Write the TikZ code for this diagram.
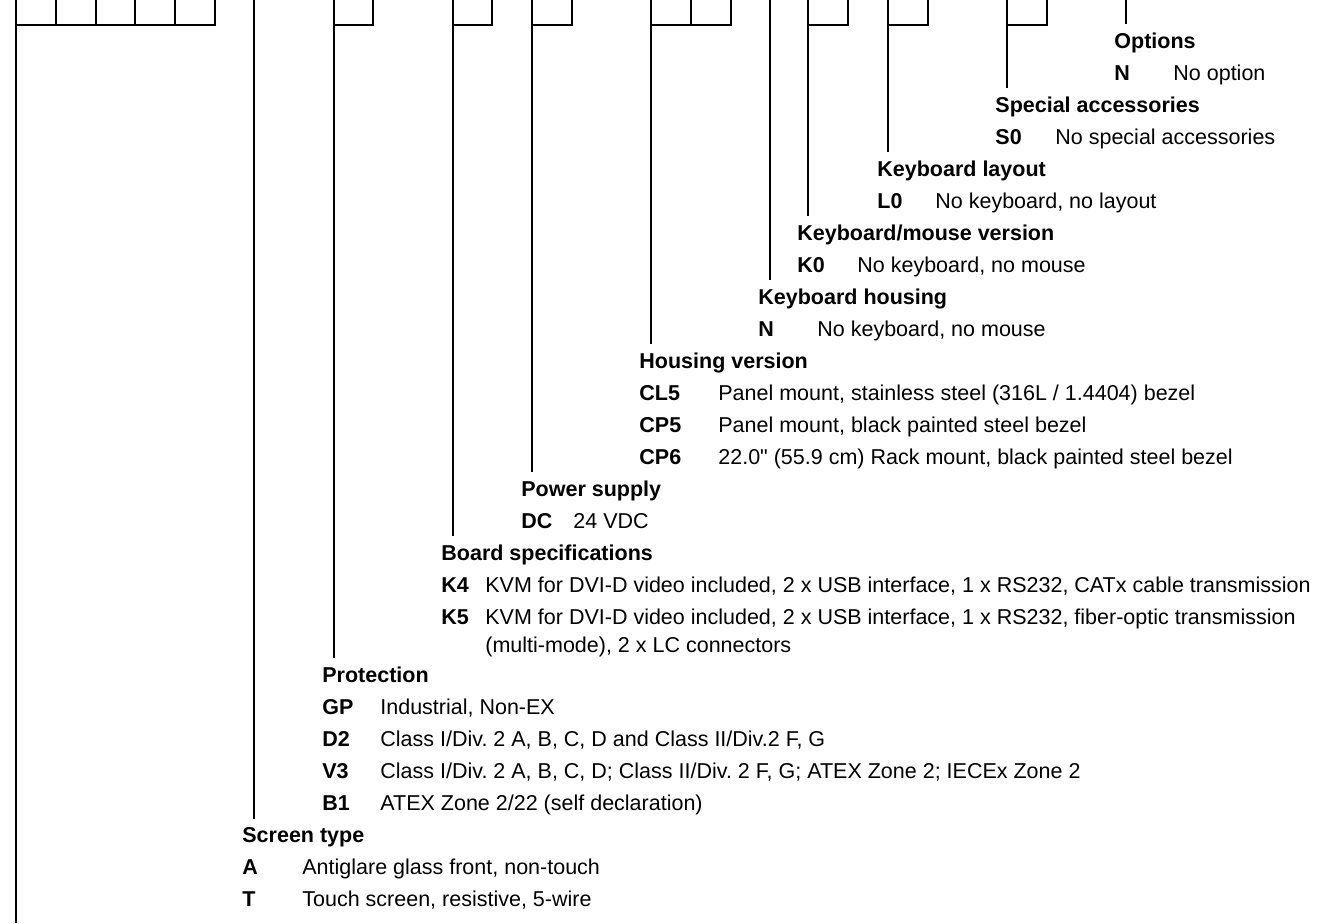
\documentclass[tikz,border=0pt]{standalone}
\usepackage{fontspec}
\setmainfont{Liberation Sans}
\usetikzlibrary{calc}
\frenchspacing

\tikzset{
  every node/.style={inner sep=0pt,anchor=base west},
  group head/.style={font=\fontsize{10.75pt}{12.9pt}\selectfont\bfseries},
  code key/.style={font=\fontsize{10.75pt}{12.9pt}\selectfont\bfseries},
  code text/.style={},
  frame line/.style={line width=1pt,draw=black},
  lead line/.style={line width=1pt,draw=black},
}

\begin{document}
\begin{tikzpicture}[x=0.5pt,y=-0.5pt,font=\fontsize{10.75pt}{12.9pt}\selectfont]
  \useasboundingbox (0,0) rectangle (1318,923);

  % code field boxes
  \draw[frame line] (16,0) -- (16,25) -| (215,0);
  \foreach \x in {56,96,135,175} \draw[frame line] (\x,0) -- (\x,25);
  \draw[frame line] (334,0) -- (334,25) -| (373,0);
  \draw[frame line] (453,0) -- (453,25) -| (492,0);
  \draw[frame line] (532,0) -- (532,25) -| (572,0);
  \draw[frame line] (651,0) -- (651,25) -| (731,0);
  \draw[frame line] (691,0) -- (691,25);
  \draw[frame line] (808,0) -- (808,25) -| (848,0);
  \draw[frame line] (888,0) -- (888,25) -| (928,0);
  \draw[frame line] (1007,0) -- (1007,25) -| (1047,0);

  \coordinate (tBase) at (16,0);
  \coordinate (eBase) at (16,923);
  \coordinate (tScreen) at (254,0);
  \coordinate (tProtect) at (334,0);
  \coordinate (tBoard) at (453,0);
  \coordinate (tPower) at (532,0);
  \coordinate (tHousing) at (651,0);
  \coordinate (tKbHousing) at (770,0);
  \coordinate (tKeyMouse) at (808,0);
  \coordinate (tLayout) at (888,0);
  \coordinate (tAccess) at (1007,0);
  \coordinate (tOptions) at (1126,0);

  % options
  \node[group head] (hOptions) at (1114,48) {Options};
  \node[code key] (kN1) at (1114,80) {N};
  \node[code text] (dN1) at (1173,80) {No option};

  \node[group head] (hAccess) at (995,112) {Special accessories};
  \node[code key] (kS0) at (995,144) {S0};
  \node[code text] (dS0) at (1055,144) {No special accessories};

  \node[group head] (hLayout) at (877,176) {Keyboard layout};
  \node[code key] (kL0) at (877,208) {L0};
  \node[code text] (dL0) at (935,208) {No keyboard, no layout};

  \node[group head] (hKeyMouse) at (797,240) {Keyboard/mouse version};
  \node[code key] (kK0) at (797,272) {K0};
  \node[code text] (dK0) at (857,272) {No keyboard, no mouse};

  \node[group head] (hKbHousing) at (758,304) {Keyboard housing};
  \node[code key] (kN2) at (758,336) {N};
  \node[code text] (dN2) at (817,336) {No keyboard, no mouse};

  \node[group head] (hHousing) at (639,368) {Housing version};
  \node[code key] (kCL5) at (639,400) {CL5};
  \node[code text] (dCL5) at (718,400) {Panel mount, stainless steel (316L / 1.4404) bezel};
  \node[code key] (kCP5) at (639,432) {CP5};
  \node[code text] (dCP5) at (718,432) {Panel mount, black painted steel bezel};
  \node[code key] (kCP6) at (639,464) {CP6};
  \node[code text] (dCP6) at (718,464) {22.0\textquotedbl{} (55.9 cm) Rack mount, black painted steel bezel};

  \node[group head] (hPower) at (521,496) {Power supply};
  \node[code key] (kDC) at (521,528) {DC};
  \node[code text] (dDC) at (573,528) {24 VDC};

  \node[group head] (hBoard) at (441,560) {Board specifications};
  \node[code key] (kK4) at (441,592) {K4};
  \node[code text] (dK4) at (485,592) {KVM for DVI-D video included, 2 x USB interface, 1 x RS232, CATx cable transmission};
  \node[code key] (kK5) at (441,624) {K5};
  \node[code text] (dK5) at (485,624) {KVM for DVI-D video included, 2 x USB interface, 1 x RS232, fiber-optic transmission};
  \node[code text] (dK5b) at (485,652) {(multi-mode), 2 x LC connectors};

  \node[group head] (hProtect) at (322,682) {Protection};
  \node[code key] (kGP) at (322,714) {GP};
  \node[code text] (dGP) at (380,714) {Industrial, Non-EX};
  \node[code key] (kD2) at (322,746) {D2};
  \node[code text] (dD2) at (380,746) {Class I/Div. 2 A, B, C, D and Class II/Div.2 F, G};
  \node[code key] (kV3) at (322,778) {V3};
  \node[code text] (dV3) at (380,778) {Class I/Div. 2 A, B, C, D; Class II/Div. 2 F, G; ATEX Zone 2; IECEx Zone 2};
  \node[code key] (kB1) at (322,810) {B1};
  \node[code text] (dB1) at (380,810) {ATEX Zone 2/22 (self declaration)};

  \node[group head] (hScreen) at (242,842) {Screen type};
  \node[code key] (kA) at (242,874) {A};
  \node[code text] (dA) at (302,874) {Antiglare glass front, non-touch};
  \node[code key] (kT) at (242,906) {T};
  \node[code text] (dT) at (302,906) {Touch screen, resistive, 5-wire};

  % lead lines down to the group headings
  \draw[lead line] (tBase) -- (eBase);
  \foreach \g in {Screen,Protect,Board,Power,Housing,KbHousing,KeyMouse,Layout,Access,Options}
    \draw[lead line] (t\g) -- ($(t\g |- h\g.north)+(0pt,4pt)$);

\end{tikzpicture}
\end{document}
